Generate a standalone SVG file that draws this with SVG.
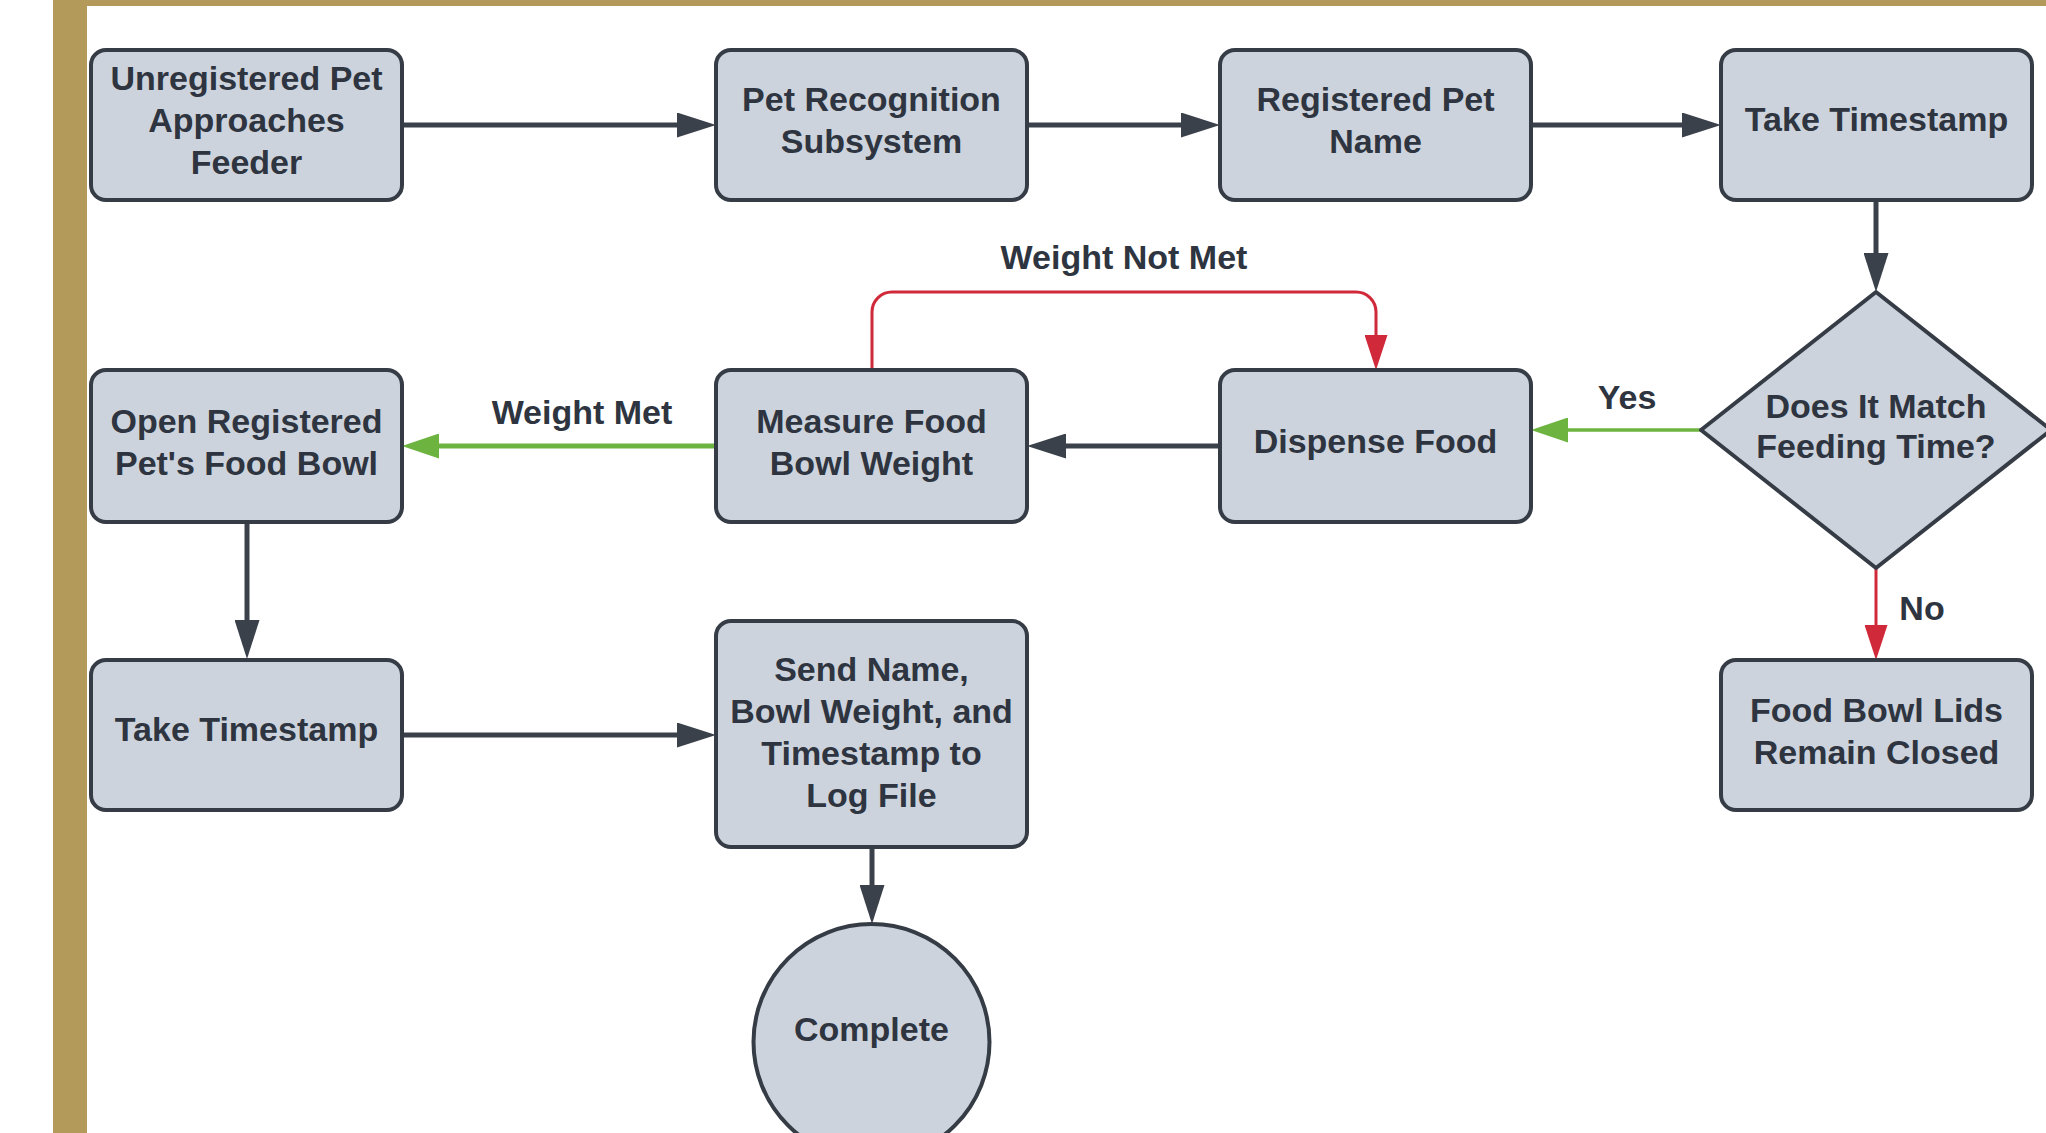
<svg xmlns="http://www.w3.org/2000/svg" width="2046" height="1133" viewBox="0 0 2046 1133">
<style>
.box{fill:#cdd3dc;stroke:#363c45;stroke-width:4}
.t{font-family:"Liberation Sans",Arial,sans-serif;font-weight:bold;font-size:34px;fill:#2e3540;text-anchor:middle}
.dk{fill:none;stroke:#3a414b;stroke-width:5}
.gr{fill:none;stroke:#6db33f}
.rd{fill:none;stroke:#d0293a;stroke-width:3}
</style>
<defs>
<marker id="ad" viewBox="0 0 39 25" refX="0" refY="12.5" markerWidth="39" markerHeight="25" markerUnits="userSpaceOnUse" orient="auto"><path d="M0,0 L39,12.5 L0,25 Z" fill="#3a414b"/></marker>
<marker id="ag" viewBox="0 0 37 25" refX="0" refY="12.5" markerWidth="37" markerHeight="25" markerUnits="userSpaceOnUse" orient="auto"><path d="M0,0 L37,12.5 L0,25 Z" fill="#6db33f"/></marker>
<marker id="ar" viewBox="0 0 35 23" refX="0" refY="11.5" markerWidth="35" markerHeight="23" markerUnits="userSpaceOnUse" orient="auto"><path d="M0,0 L35,11.5 L0,23 Z" fill="#d0293a"/></marker>
</defs>
<rect x="0" y="0" width="2046" height="1133" fill="#ffffff"/>
<rect x="53" y="0" width="1993" height="6" fill="#b39a5b"/>
<rect x="53" y="0" width="34" height="1133" fill="#b39a5b"/>

<g id="connectors">
<path class="dk" d="M402,125 H677" marker-end="url(#ad)"/>
<path class="dk" d="M1027,125 H1181" marker-end="url(#ad)"/>
<path class="dk" d="M1531,125 H1682" marker-end="url(#ad)"/>
<path class="dk" d="M1876,200 V253" marker-end="url(#ad)"/>
<path class="gr" stroke-width="3.5" d="M1701,430 H1568" marker-end="url(#ag)"/>
<path class="rd" d="M1876,568 V625" marker-end="url(#ar)"/>
<path class="dk" d="M1220,446 H1066" marker-end="url(#ad)"/>
<path class="rd" d="M872,370 V312 A20,20 0 0 1 892,292 H1356 A20,20 0 0 1 1376,312 V335" marker-end="url(#ar)"/>
<path class="gr" stroke-width="5" d="M716,446 H439" marker-end="url(#ag)"/>
<path class="dk" stroke-width="4" d="M247,522 V620" marker-end="url(#ad)"/>
<path class="dk" d="M402,735 H677" marker-end="url(#ad)"/>
<path class="dk" stroke-width="4" d="M872,847 V885" marker-end="url(#ad)"/>
<text class="t" x="1627" y="409">Yes</text>
<text class="t" x="1922" y="620">No</text>
<text class="t" x="582" y="424">Weight Met</text>
<text class="t" x="1124" y="269">Weight Not Met</text>
</g>

<g id="n1"><rect class="box" x="91" y="50" width="311" height="150" rx="15"/>
<text class="t" x="246.5" y="90">Unregistered Pet</text><text class="t" x="246.5" y="132">Approaches</text><text class="t" x="246.5" y="174">Feeder</text></g>
<g id="n2"><rect class="box" x="716" y="50" width="311" height="150" rx="15"/>
<text class="t" x="871.5" y="111">Pet Recognition</text><text class="t" x="871.5" y="153">Subsystem</text></g>
<g id="n3"><rect class="box" x="1220" y="50" width="311" height="150" rx="15"/>
<text class="t" x="1375.5" y="111">Registered Pet</text><text class="t" x="1375.5" y="153">Name</text></g>
<g id="n4"><rect class="box" x="1721" y="50" width="311" height="150" rx="15"/>
<text class="t" x="1876.5" y="131">Take Timestamp</text></g>
<g id="n5"><polygon class="box" stroke-linejoin="round" points="1876,292 2051,430 1876,568 1701,430"/>
<text class="t" x="1876" y="418">Does It Match</text><text class="t" x="1876" y="458">Feeding Time?</text></g>
<g id="n6"><rect class="box" x="1220" y="370" width="311" height="152" rx="15"/>
<text class="t" x="1375.5" y="453">Dispense Food</text></g>
<g id="n7"><rect class="box" x="716" y="370" width="311" height="152" rx="15"/>
<text class="t" x="871.5" y="433">Measure Food</text><text class="t" x="871.5" y="475">Bowl Weight</text></g>
<g id="n8"><rect class="box" x="91" y="370" width="311" height="152" rx="15"/>
<text class="t" x="246.5" y="433">Open Registered</text><text class="t" x="246.5" y="475">Pet's Food Bowl</text></g>
<g id="n9"><rect class="box" x="1721" y="660" width="311" height="150" rx="15"/>
<text class="t" x="1876.5" y="722">Food Bowl Lids</text><text class="t" x="1876.5" y="764">Remain Closed</text></g>
<g id="n10"><rect class="box" x="91" y="660" width="311" height="150" rx="15"/>
<text class="t" x="246.5" y="741">Take Timestamp</text></g>
<g id="n11"><rect class="box" x="716" y="621" width="311" height="226" rx="15"/>
<text class="t" x="871.5" y="681">Send Name,</text><text class="t" x="871.5" y="723">Bowl Weight, and</text><text class="t" x="871.5" y="765">Timestamp to</text><text class="t" x="871.5" y="807">Log File</text></g>
<g id="n12"><circle class="box" cx="871.5" cy="1042" r="118"/>
<text class="t" x="871.5" y="1041">Complete</text></g>
</svg>
